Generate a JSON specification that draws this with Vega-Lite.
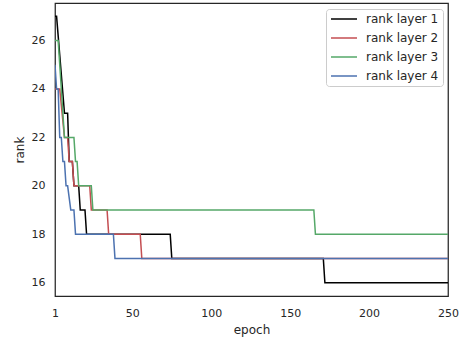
{
  "$schema": "https://vega.github.io/schema/vega-lite/v6.json",
  "width": 393,
  "height": 293,
  "autosize": "none",
  "padding": {"left": 55, "top": 3, "right": 13, "bottom": 49},
  "background": "white",
  "data": {
    "values": [
      {"epoch": 1, "rank": 27, "series": "rank layer 1"},
      {"epoch": 2, "rank": 27, "series": "rank layer 1"},
      {"epoch": 7, "rank": 23, "series": "rank layer 1"},
      {"epoch": 9, "rank": 23, "series": "rank layer 1"},
      {"epoch": 10, "rank": 21, "series": "rank layer 1"},
      {"epoch": 12, "rank": 21, "series": "rank layer 1"},
      {"epoch": 13, "rank": 20, "series": "rank layer 1"},
      {"epoch": 16, "rank": 20, "series": "rank layer 1"},
      {"epoch": 17, "rank": 19, "series": "rank layer 1"},
      {"epoch": 20, "rank": 19, "series": "rank layer 1"},
      {"epoch": 21, "rank": 18, "series": "rank layer 1"},
      {"epoch": 74, "rank": 18, "series": "rank layer 1"},
      {"epoch": 75, "rank": 17, "series": "rank layer 1"},
      {"epoch": 171, "rank": 17, "series": "rank layer 1"},
      {"epoch": 172, "rank": 16, "series": "rank layer 1"},
      {"epoch": 250, "rank": 16, "series": "rank layer 1"},

      {"epoch": 1, "rank": 24, "series": "rank layer 2"},
      {"epoch": 4, "rank": 24, "series": "rank layer 2"},
      {"epoch": 7, "rank": 22, "series": "rank layer 2"},
      {"epoch": 9, "rank": 22, "series": "rank layer 2"},
      {"epoch": 10, "rank": 21, "series": "rank layer 2"},
      {"epoch": 12, "rank": 21, "series": "rank layer 2"},
      {"epoch": 13, "rank": 20, "series": "rank layer 2"},
      {"epoch": 23, "rank": 20, "series": "rank layer 2"},
      {"epoch": 24, "rank": 19, "series": "rank layer 2"},
      {"epoch": 34, "rank": 19, "series": "rank layer 2"},
      {"epoch": 35, "rank": 18, "series": "rank layer 2"},
      {"epoch": 55, "rank": 18, "series": "rank layer 2"},
      {"epoch": 56, "rank": 17, "series": "rank layer 2"},
      {"epoch": 250, "rank": 17, "series": "rank layer 2"},

      {"epoch": 1, "rank": 26, "series": "rank layer 3"},
      {"epoch": 3, "rank": 26, "series": "rank layer 3"},
      {"epoch": 7, "rank": 22, "series": "rank layer 3"},
      {"epoch": 13, "rank": 22, "series": "rank layer 3"},
      {"epoch": 14, "rank": 21, "series": "rank layer 3"},
      {"epoch": 15, "rank": 21, "series": "rank layer 3"},
      {"epoch": 16, "rank": 20, "series": "rank layer 3"},
      {"epoch": 24, "rank": 20, "series": "rank layer 3"},
      {"epoch": 25, "rank": 19, "series": "rank layer 3"},
      {"epoch": 165, "rank": 19, "series": "rank layer 3"},
      {"epoch": 166, "rank": 18, "series": "rank layer 3"},
      {"epoch": 250, "rank": 18, "series": "rank layer 3"},

      {"epoch": 1, "rank": 25, "series": "rank layer 4"},
      {"epoch": 2, "rank": 24, "series": "rank layer 4"},
      {"epoch": 3, "rank": 24, "series": "rank layer 4"},
      {"epoch": 4, "rank": 22, "series": "rank layer 4"},
      {"epoch": 5, "rank": 22, "series": "rank layer 4"},
      {"epoch": 6, "rank": 21, "series": "rank layer 4"},
      {"epoch": 7, "rank": 21, "series": "rank layer 4"},
      {"epoch": 8, "rank": 20, "series": "rank layer 4"},
      {"epoch": 9, "rank": 20, "series": "rank layer 4"},
      {"epoch": 11, "rank": 19, "series": "rank layer 4"},
      {"epoch": 13, "rank": 19, "series": "rank layer 4"},
      {"epoch": 14, "rank": 18, "series": "rank layer 4"},
      {"epoch": 38, "rank": 18, "series": "rank layer 4"},
      {"epoch": 39, "rank": 17, "series": "rank layer 4"},
      {"epoch": 250, "rank": 17, "series": "rank layer 4"}
    ]
  },
  "mark": {"type": "line", "strokeWidth": 1.5, "clip": true},
  "encoding": {
    "x": {
      "field": "epoch",
      "type": "quantitative",
      "scale": {"domain": [1, 250], "nice": false, "zero": false},
      "axis": {"values": [1, 50, 100, 150, 200, 250], "title": "epoch", "grid": false, "ticks": false, "domain": false, "labelPadding": 11, "labelFontSize": 11, "titleFontSize": 12, "titlePadding": 6, "labelFlush": false}
    },
    "y": {
      "field": "rank",
      "type": "quantitative",
      "scale": {"domain": [15.45, 27.55], "nice": false, "zero": false},
      "axis": {"values": [16, 18, 20, 22, 24, 26], "title": "rank", "grid": false, "ticks": false, "domain": false, "labelPadding": 10, "labelFontSize": 11, "titleFontSize": 12, "titlePadding": 5}
    },
    "color": {
      "field": "series",
      "type": "nominal",
      "scale": {"domain": ["rank layer 1", "rank layer 2", "rank layer 3", "rank layer 4"], "range": ["#000000", "#c44e52", "#55a868", "#4c72b0"]},
      "legend": {"title": null, "orient": "none", "legendX": 271, "legendY": 6, "symbolType": "M-2.6,0H2.6", "symbolSize": 100, "symbolStrokeWidth": 1.5, "symbolOffset": 8, "labelOffset": 16, "labelFontSize": 12, "rowPadding": 7, "padding": 4, "strokeColor": "#cccccc", "fillColor": "white", "cornerRadius": 3}
    }
  },
  "config": {
    "font": "DejaVu Sans",
    "view": {"stroke": "#262626", "strokeWidth": 1.25},
    "axis": {"labelColor": "#262626", "titleColor": "#262626", "titleFontWeight": "normal"},
    "legend": {"labelColor": "#262626"}
  }
}
